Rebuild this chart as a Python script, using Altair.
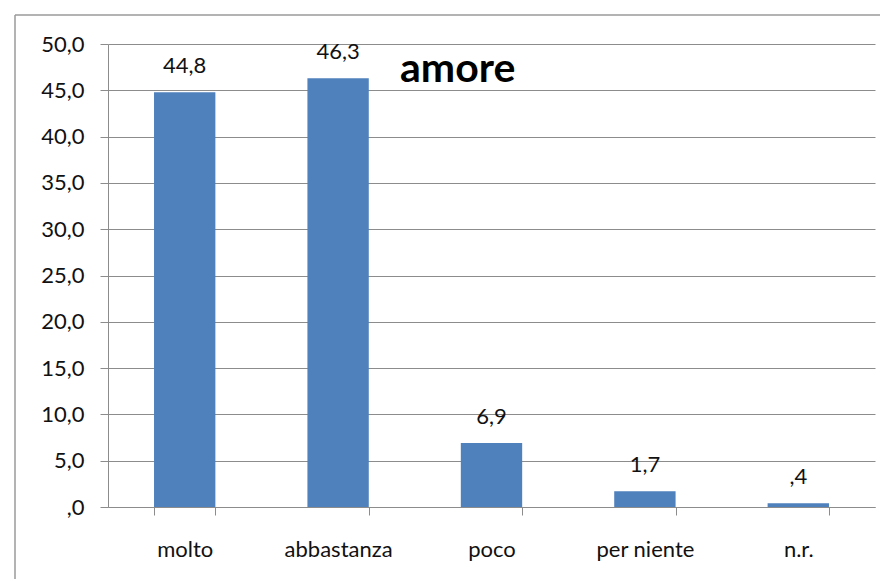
import altair as alt
import pandas as pd

categories = ["molto", "abbastanza", "poco", "per niente", "n.r."]
values = [44.8, 46.3, 6.9, 1.7, 0.4]
value_labels = ["44,8", "46,3", "6,9", "1,7", ",4"]
y_ticks = [0, 5, 10, 15, 20, 25, 30, 35, 40, 45, 50]
title_text = "amore"

df = pd.DataFrame({"cat": categories, "val": values, "lab": value_labels})

FONT = "Lato"
GRID = "#8c8c8c"
W, H = 767, 463

x_enc = alt.X(
    "cat:N",
    sort=categories,
    title=None,
    scale=alt.Scale(paddingInner=0.6, paddingOuter=0.3),
    axis=alt.Axis(
        labelAngle=0,
        labelFont=FONT,
        labelFontSize=22,
        labelColor="#111111",
        labelPadding=24,
        tickBand="extent",
        tickSize=8,
        tickColor=GRID,
        domainColor=GRID,
        grid=False,
    ),
)
y_enc = alt.Y(
    "val:Q",
    title=None,
    scale=alt.Scale(domain=[0, 50], nice=False),
    axis=alt.Axis(
        values=y_ticks,
        labelExpr="datum.value == 0 ? ',0' : replace(format(datum.value, '.1f'), '.', ',')",
        labelFont=FONT,
        labelFontSize=22,
        labelColor="#111111",
        labelPadding=16,
        tickSize=8,
        tickColor=GRID,
        domainColor=GRID,
        gridColor=GRID,
        gridOpacity=1,
        gridWidth=1,
    ),
)

base = alt.Chart(df)
bars = base.mark_bar(color="#4F81BD").encode(x=x_enc, y=y_enc)
texts = base.mark_text(
    font=FONT, fontSize=22, color="#111111", baseline="middle", dy=-26
).encode(x=alt.X("cat:N", sort=categories), y="val:Q", text="lab:N")

title_df = pd.DataFrame({"t": [title_text]})
title = alt.Chart(title_df).mark_text(
    font=FONT, fontSize=41, fontWeight="bold", color="#000000", align="left", baseline="middle"
).encode(x=alt.value(292), y=alt.value(26), text="t:N")

frame = alt.Chart(title_df).mark_rule(
    stroke="#9a9a9a", strokeWidth=1.5
).encode(x=alt.value(-93), y=alt.value(-29), y2=alt.value(560))
frame_top = alt.Chart(title_df).mark_rule(
    stroke="#9a9a9a", strokeWidth=1.5
).encode(x=alt.value(-93), x2=alt.value(772), y=alt.value(-29))

chart = alt.layer(frame, frame_top, bars, texts, title).properties(
    width=W,
    height=H,
    padding={"left": 100, "top": 36, "right": 5, "bottom": 72},
    autosize=alt.AutoSizeParams(type="none"),
    background="white",
).configure_view(stroke=None)

chart.save("out.html", embed_options={"renderer": "svg", "actions": False})
